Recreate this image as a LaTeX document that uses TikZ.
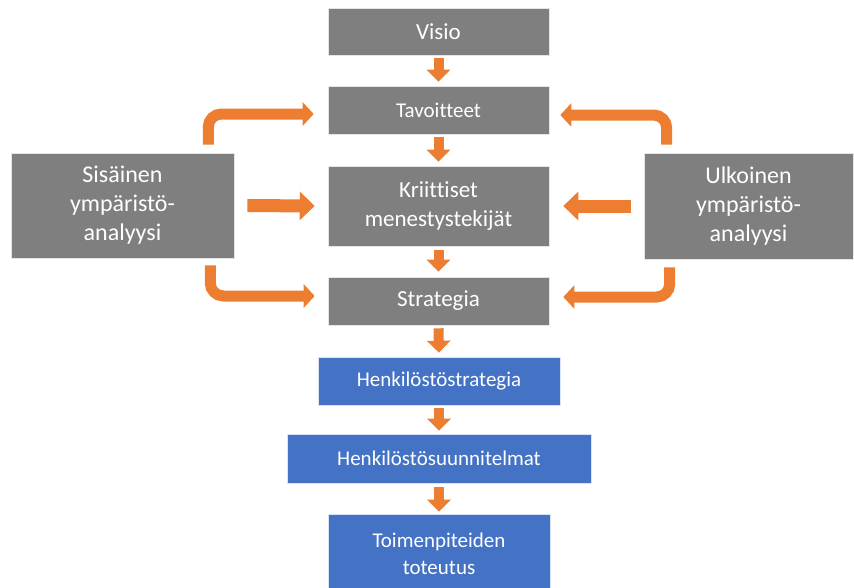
\documentclass[tikz,border=0pt]{standalone}
\usepackage{fontspec}
\setmainfont{Carlito}[Ligatures=NoCommon]
\usetikzlibrary{arrows.meta}
\definecolor{boxgray}{HTML}{7F7F7F}
\definecolor{boxblue}{HTML}{4472C4}
\definecolor{arrorange}{HTML}{ED7D31}
\begin{document}
\begin{tikzpicture}[x=1pt,y=-1pt,
  gbox/.style={fill=boxgray, draw=white!80!boxgray, line width=0.6pt, text=white, align=center, inner sep=0pt},
  bbox/.style={fill=boxblue, draw=white!80!boxblue, line width=0.6pt, text=white, align=center, inner sep=0pt},
  varr/.style={draw=arrorange, line width=10pt, -{Triangle[width=23pt,length=12pt]}},
  harr/.style={draw=arrorange, line width=13pt, -{Triangle[width=28pt,length=15pt]}},
  elbow/.style={draw=arrorange, line width=11pt, rounded corners=13pt, -{Triangle[width=23pt,length=11pt]}},
  bigtxt/.style={font=\fontsize{23}{29}\selectfont},
  sidetxt/.style={font=\fontsize{24}{29}\selectfont},
  smalltxt/.style={font=\fontsize{21}{27}\selectfont}
]
\useasboundingbox (0,0) rectangle (854,587);

% grey boxes
\node[gbox, bigtxt, minimum width=221pt, minimum height=47pt] (visio) at (438.5,31.5) {Visio};
\node[gbox, smalltxt, minimum width=221pt, minimum height=48pt] (tav) at (438.5,110) {Tavoitteet};
\node[gbox, bigtxt, minimum width=221pt, minimum height=80pt] (kri) at (438.5,206) {Kriittiset\\menestystekijät};
\node[gbox, bigtxt, minimum width=221pt, minimum height=48pt] (strat) at (438.5,301) {Strategia};
\node[gbox, sidetxt, minimum width=223pt, minimum height=105pt] (sis) at (122.5,205.5) {Sisäinen\\ympäristö-\\analyysi};
\node[gbox, sidetxt, minimum width=209pt, minimum height=106pt] (ulk) at (748.5,206) {Ulkoinen\\ympäristö-\\analyysi};

% blue boxes
\node[bbox, smalltxt, minimum width=242pt, minimum height=48pt] (hs) at (439,381) {Henkilöstöstrategia};
\node[bbox, smalltxt, minimum width=304pt, minimum height=49pt] (hsu) at (439,458.5) {Henkilöstösuunnitelmat};
\node[bbox, smalltxt, minimum width=222pt, minimum height=79pt] (toim) at (439,553.5) {Toimenpiteiden\\toteutus};

% vertical arrows
\draw[varr] ([yshift=-3pt]visio.south) -- ([yshift=4pt]tav.north);
\draw[varr] ([yshift=-3pt]tav.south) -- ([yshift=4pt]kri.north);
\draw[varr] ([yshift=-4pt]kri.south) -- ([yshift=5pt]strat.north);
\draw[varr] ([yshift=-3pt]strat.south) -- ([yshift=4pt]hs.north);
\draw[varr] ([yshift=-3pt]hs.south) -- ([yshift=3pt]hsu.north);
\draw[varr] ([yshift=-4pt]hsu.south) -- ([yshift=2pt]toim.north);

% horizontal arrows
\draw[harr] ([xshift=13pt]sis.east) -- ([xshift=-13pt]kri.west);
\draw[harr] ([xshift=-13pt]ulk.west) -- ([xshift=14pt]kri.east);

% elbow arrows
\draw[elbow] ([xshift=-26pt,yshift=8pt]sis.north east) |- ([xshift=-14pt,yshift=-4pt]tav.west);
\draw[elbow] ([xshift=-24pt,yshift=-7pt]sis.south east) |- ([xshift=-13pt,yshift=5pt]strat.west);
\draw[elbow] ([xshift=23pt,yshift=8pt]ulk.north west) |- ([xshift=11pt,yshift=-5pt]tav.east);
\draw[elbow] ([xshift=26pt,yshift=-8pt]ulk.south west) |- ([xshift=14pt,yshift=4pt]strat.east);
\end{tikzpicture}
\end{document}
